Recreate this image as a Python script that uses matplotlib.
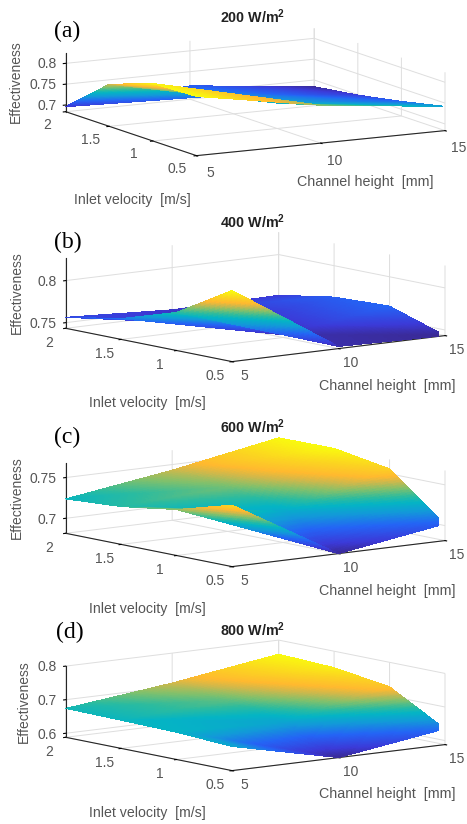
import numpy as np
import matplotlib
matplotlib.use("Agg")
from matplotlib import pyplot as plt
from matplotlib.colors import LinearSegmentedColormap
from matplotlib.tri import Triangulation, UniformTriRefiner, LinearTriInterpolator
from mpl_toolkits.mplot3d import proj3d

W, H = 467, 824

# channel height [mm], inlet velocity [m/s]
heights = [5, 10, 15]
velocities = [0.5, 1, 1.5, 2]

# effectiveness, rows = velocity, columns = channel height
eff_200 = [[0.826, 0.775, 0.742],
           [0.822, 0.745, 0.719],
           [0.785, 0.730, 0.699],
           [0.696, 0.716, 0.684]]
eff_400 = [[0.8278, 0.7459, 0.7433],
           [0.7885, 0.7465, 0.7651],
           [0.7680, 0.7453, 0.7627],
           [0.7564, 0.7498, 0.7516]]
eff_600 = [[0.757, 0.6816, 0.702],
           [0.738, 0.720, 0.756],
           [0.728, 0.735, 0.7675],
           [0.7238, 0.7431, 0.7668]]
eff_800 = [[0.660, 0.588, 0.635],
           [0.669, 0.660, 0.727],
           [0.672, 0.690, 0.751],
           [0.674, 0.711, 0.758]]

zticks_200 = [0.7, 0.75, 0.8]
zticks_400 = [0.75, 0.8]
zticks_600 = [0.7, 0.75]
zticks_800 = [0.6, 0.7, 0.8]

parula = LinearSegmentedColormap.from_list("parula", [
    (0, "#3a2a96"), (0.1, "#3b3ad8"), (0.25, "#2464f5"), (0.38, "#129ad8"),
    (0.48, "#04b4c4"), (0.55, "#2bbb9f"), (0.64, "#80c06c"), (0.72, "#d0b84a"),
    (0.78, "#ffb92f"), (0.88, "#fbd520"), (1, "#f9fb0e")])

plt.rcParams['font.family'] = ['Liberation Sans', 'DejaVu Sans']
plt.rcParams['mathtext.fontset'] = 'custom'
plt.rcParams['mathtext.bf'] = 'Liberation Sans:bold'
plt.rcParams['grid.color'] = '#dedede'
plt.rcParams['grid.linewidth'] = 0.7

GRAY = '#555555'

fig = plt.figure(figsize=(W/100, H/100), dpi=100)


def pix(ax, x, y, z):
    X, Y, _ = proj3d.proj_transform(x, y, z, ax.get_proj())
    return ax.transData.transform((X, Y))


def panel(vals, zlim, zticks, elev, azim, box, left, right, letter, title,
          letter_xy, title_xy, ch_xy, iv_xy, eff_xy, xpad):
    ax = fig.add_axes([0.1, 0.1, 0.8, 0.8], projection='3d')
    ax.patch.set_alpha(0)
    ax.set_proj_type('ortho')
    ax.view_init(elev=elev, azim=azim)
    ax.set_box_aspect(box)

    x, y = np.meshgrid(heights, velocities)
    z = np.array(vals)
    nr, nc = z.shape
    tris = []
    for j in range(nr-1):
        for i in range(nc-1):
            a = j*nc+i
            b = a+1
            c = a+nc
            d = c+1
            tris += [[a, b, c], [b, d, c]]
    tri = Triangulation(x.ravel(), y.ravel(), tris)
    fine, zf = UniformTriRefiner(tri).refine_field(
        z.ravel(), LinearTriInterpolator(tri, z.ravel()), subdiv=5)
    ax.plot_trisurf(fine, zf, cmap=parula, vmin=z.min(), vmax=z.max(),
                    linewidth=0, antialiased=False, shade=False)

    ax.set_xlim(5, 15)
    ax.set_ylim(0.5, 2)
    ax.set_zlim(*zlim)
    ax.set_xticks(heights)
    ax.set_yticks(velocities)
    ax.set_yticklabels(['0.5', '1', '1.5', '2'])
    ax.set_zticks(zticks)
    ax.set_zticklabels([str(t) for t in zticks])

    for axis in (ax.xaxis, ax.yaxis, ax.zaxis):
        axis.set_pane_color((1, 1, 1, 0))
        axis.pane.set_edgecolor((1, 1, 1, 0))
        axis.line.set_color('#262626')
        axis.line.set_linewidth(0.8)
        axis._axinfo['tick']['inward_factor'] = 0.12
        axis._axinfo['tick']['outward_factor'] = 0.0
        axis._axinfo['tick']['color'] = '#262626'
    ax.zaxis.set_ticks_position('upper')
    ax.tick_params(axis='x', labelsize=10, labelcolor=GRAY, pad=xpad)
    ax.tick_params(axis='y', labelsize=10, labelcolor=GRAY, pad=3)
    ax.tick_params(axis='z', labelsize=10, labelcolor=GRAY, pad=-4.5)
    for lab in ax.zaxis.get_ticklabels():
        lab.set_ha('right')
        lab.set_va('center_baseline')

    # fit the box so its left and right floor corners land on the reference
    fig.canvas.draw()
    for _ in range(3):
        p0 = pix(ax, 5, 2, zlim[0])
        p1 = pix(ax, 15, 0.5, zlim[0])
        pos = ax.get_position(original=True)
        k = (right[0]-left[0])/(p1[0]-p0[0])
        S = pos.width*W*k
        c = pos.x0*W+pos.width*W/2, pos.y0*H+pos.height*H/2
        ax.set_position([(c[0]-S/2)/W, (c[1]-S/2)/H, S/W, S/H])
        fig.canvas.draw()
        p0 = pix(ax, 5, 2, zlim[0])
        dx = left[0]-p0[0]
        dy = (H-left[1])-p0[1]
        pos = ax.get_position(original=True)
        ax.set_position([pos.x0+dx/W, pos.y0+dy/H, pos.width, pos.height])
        fig.canvas.draw()

    def put(xy, s, **kw):
        fig.text(xy[0]/W, 1-xy[1]/H, s, ha='center', va='center', **kw)
    put(letter_xy, letter, family='Liberation Serif', fontsize=17, color='black')
    put(title_xy, title, fontsize=10.3, fontweight='bold', color='#222222')
    put(ch_xy, 'Channel height  [mm]', fontsize=10.3, color=GRAY)
    put(iv_xy, 'Inlet velocity  [m/s]', fontsize=10.2, color=GRAY)
    put(eff_xy, 'Effectiveness', fontsize=10, color=GRAY, rotation=90)


panel(eff_200, (0.684, 0.824), zticks_200, 10.6, -118.7, (283, 272, 59.3),
      (65.7, 111.7), (445, 131), '(a)', r'200 W/m$^{\mathbf{2}}$',
      (67, 31), (253, 17), (365, 182), (132, 200), (16, 82), 7)
panel(eff_400, (0.7433, 0.8266), zticks_400, 9, -128, (270, 270, 70.9),
      (65.7, 328.3), (445, 336), '(b)', r'400 W/m$^{\mathbf{2}}$',
      (68, 242), (253, 222), (387, 386), (147, 403), (17, 293), 2)
panel(eff_600, (0.6816, 0.7676), zticks_600, 9, -128, (270, 270, 70.9),
      (65.7, 533.3), (445, 541), '(c)', r'600 W/m$^{\mathbf{2}}$',
      (67, 437), (253, 427), (387, 591), (147, 609), (17, 498), 2)
panel(eff_800, (0.588, 0.8), zticks_800, 9, -128, (270, 270, 72),
      (65.7, 737.3), (445, 745), '(d)', r'800 W/m$^{\mathbf{2}}$',
      (70, 632), (253, 630), (387, 794), (147, 813), (24, 702), 2)

fig.savefig("out.png", dpi=100)
